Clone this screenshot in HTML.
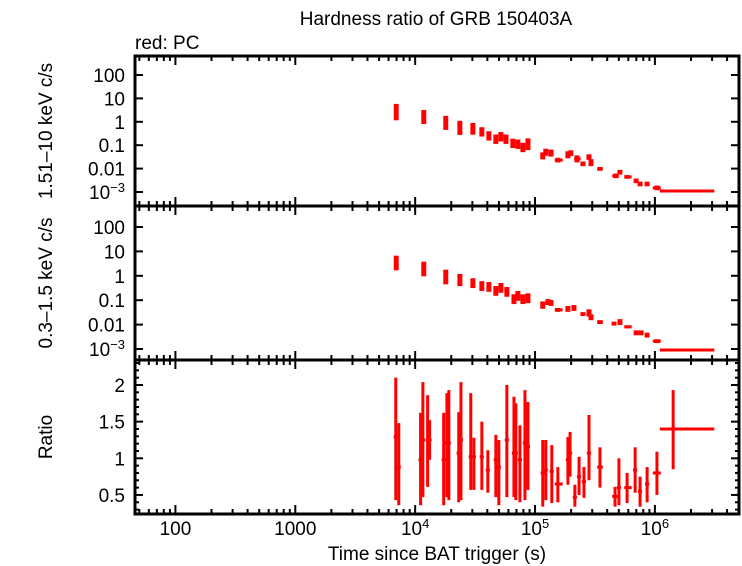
<!DOCTYPE html>
<html><head><meta charset="utf-8"><style>
body{margin:0;background:#fff;}
svg{display:block;font-family:"Liberation Sans",sans-serif;}
</style></head><body>
<svg id="chart" width="742" height="566" viewBox="0 0 742 566" xmlns="http://www.w3.org/2000/svg">
<text x="436" y="25" font-size="19" text-anchor="middle">Hardness ratio of GRB 150403A</text>
<text x="135" y="49" font-size="19">red: PC</text>
<text transform="translate(52,131) rotate(-90)" font-size="19" text-anchor="middle">1.51–10 keV c/s</text>
<text transform="translate(52,283) rotate(-90)" font-size="19" text-anchor="middle">0.3–1.5 keV c/s</text>
<text transform="translate(52,437) rotate(-90)" font-size="19" text-anchor="middle">Ratio</text>
<text x="437" y="560" font-size="19" text-anchor="middle">Time since BAT trigger (s)</text>
<g id="g"></g>
</svg>
<script>
// ---- data ----
const hardT = [6950,11800,18000,23600,30300,36000,41200,47100,51900,57200,65300,71900,79200,87300,116000,123000,136000,155000,188000,199000,224000,251000,282000,293000,348000,474000,511000,586000,697000,752000,861000,1040000,1420000];
const hardV = [2.6,1.6,0.9,0.55,0.5,0.37,0.25,0.18,0.23,0.18,0.12,0.11,0.08,0.11,0.035,0.05,0.046,0.023,0.039,0.046,0.026,0.016,0.031,0.018,0.0097,0.0049,0.007,0.0044,0.003,0.0022,0.0022,0.0015,0.0011];
const hardErr = [0.35,0.3,0.3,0.3,0.25,0.2,0.2,0.2,0.2,0.2,0.2,0.2,0.2,0.25,0.15,0.15,0.15,0.1,0.15,0.12,0.15,0.1,0.12,0.15,0.08,0.1,0.1,0.08,0.1,0.1,0.1,0.1,0.05];
const softT = [6950,11800,18000,23600,30300,36000,41200,47100,51900,58200,66700,71900,79200,87300,116000,128000,136000,155000,188000,211000,251000,282000,293000,348000,456000,511000,586000,697000,767000,861000,1040000,1420000];
const softV = [3.35,1.9,0.89,0.67,0.5,0.38,0.35,0.24,0.32,0.22,0.11,0.15,0.11,0.12,0.063,0.084,0.077,0.04,0.044,0.048,0.027,0.03,0.02,0.0127,0.011,0.0127,0.0081,0.0046,0.0046,0.0037,0.0021,0.00091];
const softErr = [0.3,0.3,0.3,0.25,0.2,0.2,0.2,0.2,0.2,0.2,0.2,0.2,0.2,0.2,0.15,0.12,0.12,0.08,0.12,0.12,0.08,0.15,0.12,0.08,0.08,0.12,0.06,0.1,0.1,0.1,0.08,0.06];
const ratioT = [6890,7300,11100,11600,12700,13200,17300,18400,19100,23100,24100,29100,30900,36000,40400,47100,49900,58200,66700,69200,74800,82400,87300,116000,123000,138000,155000,188000,196000,215000,233000,256000,282000,348000,465000,501000,586000,684000,752000,861000,1040000,1420000];
const ratioV = [1.29,0.88,0.98,1.25,1.25,1.25,0.98,1.21,1.21,1.07,1.25,1.02,1.02,1.02,0.84,0.98,0.88,1.25,1.07,1.07,0.98,1.21,1.16,0.8,0.84,0.82,0.65,0.98,1.07,0.47,0.75,0.68,1.07,0.88,0.48,0.6,0.6,0.84,0.55,0.65,0.8,1.4];
const ratioHi = [2.1,1.48,1.62,2.04,1.86,1.52,1.62,1.89,1.93,1.63,2.04,1.89,1.28,1.5,1.11,1.32,1.25,2.0,1.84,1.75,1.45,1.93,1.77,1.25,1.25,1.18,0.88,1.29,1.36,0.64,1.02,0.88,1.59,1.15,0.61,1.0,0.8,1.15,0.75,0.88,1.09,1.93];
const ratioLo = [0.43,0.36,0.36,0.47,0.61,0.98,0.36,0.47,0.43,0.4,0.43,0.57,0.57,0.57,0.53,0.47,0.36,0.47,0.47,0.43,0.4,0.43,0.57,0.34,0.43,0.39,0.4,0.64,0.75,0.34,0.5,0.46,0.7,0.6,0.34,0.36,0.39,0.53,0.34,0.4,0.5,0.85];
const xTicks = [100,1000,10000,100000,1000000];
const logTickLabels = ["100","10","1","0.1","0.01","10−3"];
const ratioTicks = [0.5,1,1.5,2];
const wideT = {155000:[146000,170000],224000:[212000,240000],251000:[240000,264000],348000:[330000,368000],474000:[440000,500000],465000:[440000,500000],586000:[555000,640000],1040000:[960000,1120000],1420000:[1100000,3130000]};

// ---- axes ----
const L=135,R=739,TOPS=[56,206,360],BOTS=[206,360,514];
const lx0=Math.log10(46), lx1=Math.log10(5.03e6);
function X(t){return L+(Math.log10(t)-lx0)/(lx1-lx0)*(R-L);}
function Yh(v){return 75+(2-Math.log10(v))*23.4;}
function Ys(v){return 227+(2-Math.log10(v))*24.4;}
function Yr(v){return 385+(2-v)*73.3;}
const g=document.getElementById('g');
const NS='http://www.w3.org/2000/svg';
function el(tag,attrs){const e=document.createElementNS(NS,tag);for(const k in attrs)e.setAttribute(k,attrs[k]);g.appendChild(e);return e;}
function line(x1,y1,x2,y2,c,w){return el('line',{x1:x1,y1:y1,x2:x2,y2:y2,stroke:c,'stroke-width':w});}

for(let p=0;p<3;p++){
  const top=TOPS[p],bot=BOTS[p];
  for(let d=1;d<=6;d++){
    for(let m=1;m<10;m++){
      const t=m*Math.pow(10,d);const x=X(t);
      if(x<L||x>R)continue;
      const len=m===1?9:5;
      const a=line(x,top,x,top+len,'#000',2);
      
      
      const b=line(x,bot,x,bot-len,'#000',2);
      
      
    }
  }
}
[[Yh,0],[Ys,1]].forEach(([Yf,p])=>{
  for(let i=0;i<6;i++){
    const v=Math.pow(10,2-i);const y=Yf(v);
    const a=line(L,y,L+8,y,'#000',2);
    
    
    const b=line(R,y,R-8,y,'#000',2);
    
    
    const lab=logTickLabels[i];
    const tx=el('text',{x:L-10,y:y+7,'font-size':19,'text-anchor':'end'});
    
    
    if(lab.indexOf('−')>0){tx.textContent='10';const s=document.createElementNS(NS,'tspan');s.setAttribute('dy','-7');s.setAttribute('font-size','13');s.textContent='−3';tx.appendChild(s);}
    else tx.textContent=lab;
  }
});
for(let k=3;k<=23;k++){const v=k/10;const y=Yr(v);if(y<361||y>513)continue;const len=(k%5===0)?8:4;
  const a=line(L,y,L+len,y,'#000',2);
  const b=line(R,y,R-len,y,'#000',2);}
ratioTicks.forEach(v=>{const tx=el('text',{x:L-10,y:Yr(v)+7,'font-size':19,'text-anchor':'end'});
  
  
  tx.textContent=String(v);});
xTicks.forEach(t=>{const x=X(t);const tx=el('text',{x:x,y:535,'font-size':19,'text-anchor':'middle'});
  
  
  if(t>=10000){tx.textContent='10';const s=document.createElementNS(NS,'tspan');s.setAttribute('dy','-7');s.setAttribute('font-size','13');s.textContent=String(Math.round(Math.log10(t)));tx.appendChild(s);}
  else tx.textContent=String(t);});

const RED='#ff0000';
function xr(t){if(wideT[t])return wideT[t];return [t*0.96,t*1.04];}
hardT.forEach((t,i)=>{const v=hardV[i],f=Math.pow(10,hardErr[i]);const x=X(t);const [a,b]=xr(t);
  const e1=line(x,Yh(v*f),x,Yh(v/f),RED,5);
  const e2=line(X(a),Yh(v),X(b),Yh(v),RED,3);});
softT.forEach((t,i)=>{const v=softV[i],f=Math.pow(10,softErr[i]);const x=X(t);const [a,b]=xr(t);
  const e1=line(x,Ys(v*f),x,Ys(v/f),RED,5);
  const e2=line(X(a),Ys(v),X(b),Ys(v),RED,3);});
ratioT.forEach((t,i)=>{const x=X(t);const [a,b]=xr(t);
  const e1=line(x,Yr(ratioHi[i]),x,Yr(ratioLo[i]),RED,3);
  const e2=line(X(a),Yr(ratioV[i]),X(b),Yr(ratioV[i]),RED,3);});

for(let p=0;p<3;p++){const r=el('rect',{x:L,y:TOPS[p],width:R-L,height:BOTS[p]-TOPS[p],fill:'none',stroke:'#000','stroke-width':3});
  
  }
</script>
</body></html>
